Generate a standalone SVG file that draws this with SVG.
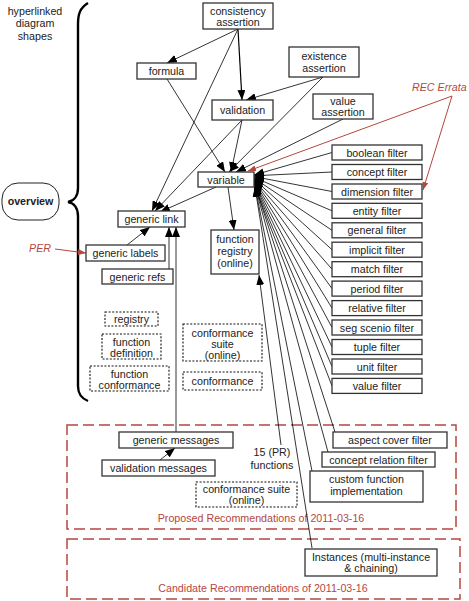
<svg xmlns="http://www.w3.org/2000/svg" width="469" height="601" viewBox="0 0 469 601">
<defs>
<style>
text{font-family:"Liberation Sans",Arial,sans-serif;font-size:10.7px;fill:#222;text-anchor:middle}
.b rect{fill:#fff;stroke:#333;stroke-width:1.3}
.d rect{fill:#fff;stroke:#111;stroke-width:1.1;stroke-dasharray:2,1.6}
.c line{stroke:#000;stroke-width:0.8;marker-end:url(#a)}
.c line.n{marker-end:none}
.r line{stroke:#b5473f;stroke-width:1;marker-end:url(#ar)}
.red{fill:#b5473f;font-style:italic;text-anchor:start}
.grp rect{fill:none;stroke:#b5473f;stroke-width:1.5;stroke-dasharray:11,5}
.grp text{fill:#b5473f}
</style>
<marker id="a" viewBox="0 0 10 8" refX="10" refY="4" markerWidth="10" markerHeight="8" markerUnits="userSpaceOnUse" orient="auto"><path d="M0,0 L10,4 L0,8 z" fill="#000"/></marker>
<marker id="ar" viewBox="0 0 8 6" refX="8" refY="3" markerWidth="8" markerHeight="6" markerUnits="userSpaceOnUse" orient="auto"><path d="M0,0 L8,3 L0,6 z" fill="#b5473f"/></marker>
</defs>
<rect width="469" height="601" fill="#fff"/>

<g id="title"><text x="35" y="14.5">hyperlinked</text><text x="35" y="27">diagram</text><text x="35" y="39.5">shapes</text></g>
<path id="brace" d="M88,3 C80,8 78,14 78,24 L78,188 C78,196 74,201 68,202 C74,203 78,208 78,216 L78,386 C78,394 81,398 88,401" fill="none" stroke="#000" stroke-width="2.4"/>
<g id="overview"><rect x="2" y="183" width="57" height="37" rx="16" fill="#fff" stroke="#222" stroke-width="1"/><text x="30.5" y="205" font-weight="bold">overview</text></g>

<g id="groups" class="grp">
<rect x="67" y="425" width="389" height="104"/>
<text x="261" y="522">Proposed Recommendations of 2011-03-16</text>
<rect x="67" y="539" width="393" height="60"/>
<text x="263" y="592">Candidate Recommendations of 2011-03-16</text>
</g>

<g id="connectors" class="c">
<line x1="238" y1="29" x2="167" y2="63"/>
<line x1="238" y1="29" x2="242" y2="100" style="stroke-width:1.2"/>
<line x1="238" y1="29" x2="152" y2="211"/>
<line x1="167" y1="79" x2="225" y2="172"/>
<line x1="323" y1="77" x2="246" y2="100"/>
<line x1="323" y1="77" x2="229" y2="172"/>
<line x1="242" y1="120" x2="231" y2="172"/>
<line x1="242" y1="120" x2="155" y2="211"/>
<line x1="343" y1="119" x2="236" y2="172"/>
<line x1="216" y1="187" x2="160" y2="212"/>
<line x1="228" y1="187" x2="234" y2="230"/>
<line x1="127" y1="245" x2="150" y2="227"/>
<line x1="169" y1="269" x2="169" y2="227"/>
<line x1="176" y1="432" x2="176" y2="227"/>
<line x1="160" y1="460" x2="175" y2="448"/>
<line x1="281" y1="445" x2="259" y2="275"/>
<line x1="332" y1="152.5" x2="254" y2="175"/>
<line x1="332" y1="172" x2="254" y2="175.8"/>
<line x1="332" y1="191.5" x2="254" y2="176.6"/>
<line x1="332" y1="210.8" x2="254" y2="177.4"/>
<line x1="332" y1="230.3" x2="254" y2="178.2"/>
<line x1="332" y1="249.7" x2="254" y2="179"/>
<line x1="332" y1="269.2" x2="254" y2="179.8"/>
<line x1="332" y1="288.6" x2="254" y2="180.6"/>
<line x1="332" y1="308.1" x2="254" y2="181.4"/>
<line x1="332" y1="327.5" x2="254" y2="182.2"/>
<line x1="332" y1="347" x2="254" y2="183"/>
<line x1="332" y1="366.5" x2="254" y2="183.8"/>
<line x1="332" y1="385.9" x2="254" y2="184.6"/>
<line x1="335" y1="432" x2="255" y2="185.4"/>
<line x1="328" y1="452" x2="255" y2="186"/>
<line x1="312" y1="471" x2="255" y2="186.5"/>
<line x1="312" y1="548" x2="255" y2="187"/>
</g>
<g id="red-connectors" class="r">
<line x1="55" y1="249" x2="86" y2="253"/>
<line x1="452" y1="96" x2="248" y2="171"/>
<line x1="452" y1="96" x2="423" y2="190"/>
</g>
<text class="red" x="29" y="252">PER</text>
<text class="red" x="412" y="91">REC Errata</text>

<g id="consistency" class="b"><rect x="203" y="3" width="70" height="26"/><text x="238" y="14.5">consistency</text><text x="238" y="26">assertion</text></g>
<g id="formula" class="b"><rect x="137" y="63" width="59" height="16"/><text x="166.5" y="75">formula</text></g>
<g id="existence" class="b"><rect x="289" y="47" width="70" height="30"/><text x="324" y="60">existence</text><text x="324" y="71.5">assertion</text></g>
<g id="validation" class="b"><rect x="212" y="100" width="61" height="20"/><text x="242.5" y="114">validation</text></g>
<g id="value-assertion" class="b"><rect x="313" y="94" width="60" height="25"/><text x="343" y="105">value</text><text x="343" y="116">assertion</text></g>
<g id="variable" class="b"><rect x="198" y="172" width="56" height="15"/><text x="226" y="183.5">variable</text></g>
<g id="generic-link" class="b"><rect x="118" y="211" width="67" height="16"/><text x="151.5" y="223">generic link</text></g>
<g id="generic-labels" class="b"><rect x="86" y="245" width="79" height="16"/><text x="125.5" y="257">generic labels</text></g>
<g id="generic-refs" class="b"><rect x="102" y="269" width="71" height="15"/><text x="137.5" y="280.5">generic refs</text></g>
<g id="function-registry" class="b"><rect x="211" y="230" width="48" height="44"/><text x="235" y="243">function</text><text x="235" y="255">registry</text><text x="235" y="267">(online)</text></g>

<g id="boolean-filter" class="b"><rect x="332" y="145" width="90" height="15"/><text x="377" y="156.5">boolean filter</text></g>
<g id="concept-filter" class="b"><rect x="332" y="164.5" width="90" height="15"/><text x="377" y="176">concept filter</text></g>
<g id="dimension-filter" class="b"><rect x="332" y="184" width="90" height="15"/><text x="377" y="195.5">dimension filter</text></g>
<g id="entity-filter" class="b"><rect x="332" y="203.3" width="90" height="15"/><text x="377" y="214.8">entity filter</text></g>
<g id="general-filter" class="b"><rect x="332" y="222.8" width="90" height="15"/><text x="377" y="234.3">general filter</text></g>
<g id="implicit-filter" class="b"><rect x="332" y="242.2" width="90" height="15"/><text x="377" y="253.7">implicit filter</text></g>
<g id="match-filter" class="b"><rect x="332" y="261.7" width="90" height="15"/><text x="377" y="273.2">match filter</text></g>
<g id="period-filter" class="b"><rect x="332" y="281.1" width="90" height="15"/><text x="377" y="292.6">period filter</text></g>
<g id="relative-filter" class="b"><rect x="332" y="300.6" width="90" height="15"/><text x="377" y="312.1">relative filter</text></g>
<g id="seg-scenio-filter" class="b"><rect x="332" y="320" width="90" height="15"/><text x="377" y="331.5">seg scenio filter</text></g>
<g id="tuple-filter" class="b"><rect x="332" y="339.5" width="90" height="15"/><text x="377" y="351">tuple filter</text></g>
<g id="unit-filter" class="b"><rect x="332" y="359" width="90" height="15"/><text x="377" y="370.5">unit filter</text></g>
<g id="value-filter" class="b"><rect x="332" y="378.4" width="90" height="15"/><text x="377" y="389.9">value filter</text></g>

<g id="registry" class="d"><rect x="105" y="312" width="53" height="14"/><text x="131.5" y="323">registry</text></g>
<g id="function-definition" class="d"><rect x="102" y="334" width="59" height="25"/><text x="131.5" y="345.5">function</text><text x="131.5" y="357">definition</text></g>
<g id="function-conformance" class="d"><rect x="90" y="366" width="79" height="25"/><text x="129.5" y="377.5">function</text><text x="129.5" y="389">conformance</text></g>
<g id="conformance-suite" class="d"><rect x="183" y="324" width="79" height="37"/><text x="222.5" y="336.5">conformance</text><text x="222.5" y="348">suite</text><text x="222.5" y="359">(online)</text></g>
<g id="conformance" class="d"><rect x="183" y="372" width="79" height="18"/><text x="222.5" y="385">conformance</text></g>

<g id="generic-messages" class="b"><rect x="119" y="432" width="114" height="16"/><text x="176" y="444">generic messages</text></g>
<g id="validation-messages" class="b"><rect x="102" y="460" width="113" height="16"/><text x="158.5" y="472">validation messages</text></g>
<g id="pr-functions"><text x="272" y="456">15 (PR)</text><text x="272" y="469">functions</text></g>
<g id="conformance-suite-2" class="d"><rect x="196" y="482" width="101" height="25"/><text x="246.5" y="493">conformance suite</text><text x="246.5" y="504">(online)</text></g>
<g id="aspect-cover-filter" class="b"><rect x="333" y="432" width="114" height="16"/><text x="390" y="444">aspect cover filter</text></g>
<g id="concept-relation-filter" class="b"><rect x="322" y="452" width="113" height="15"/><text x="378.5" y="463.5">concept relation filter</text></g>
<g id="custom-function" class="b"><rect x="310" y="471" width="113" height="31"/><text x="366.5" y="483">custom function</text><text x="366.5" y="494.5">implementation</text></g>
<g id="instances" class="b"><rect x="305" y="549" width="132" height="27"/><text x="371" y="561">Instances (multi-instance</text><text x="371" y="572">&amp; chaining)</text></g>
</svg>
